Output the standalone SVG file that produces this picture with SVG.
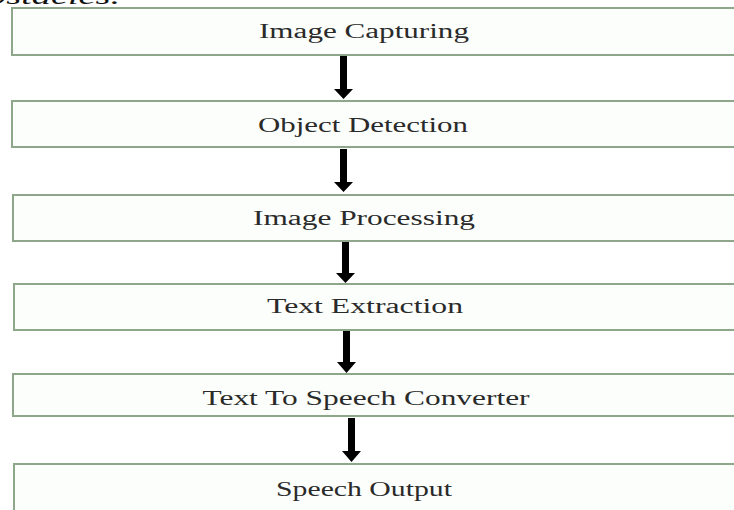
<svg xmlns="http://www.w3.org/2000/svg" width="734" height="510" viewBox="0 0 734 510">
<defs>
<style>
.box{fill:#fbfefa;stroke:#8ea68a;stroke-width:2}
.lbl{font-family:"Liberation Serif","Times New Roman",serif;font-size:20px;fill:#2a2a2a;text-anchor:middle}
.top{font-family:"Liberation Serif","Times New Roman",serif;font-size:24px;font-style:italic;fill:#111}
.shaft{fill:#000}
</style>
</defs>
<rect width="734" height="510" fill="#ffffff"/>
<text class="top" x="-32" y="4" textLength="152" lengthAdjust="spacingAndGlyphs">obstacles.</text>
<g id="n1"><rect class="box" x="12" y="8" width="740" height="47"/><text class="lbl" x="364" y="38" textLength="210" lengthAdjust="spacingAndGlyphs">Image Capturing</text></g>
<g id="n2"><rect class="box" x="12" y="101" width="740" height="46"/><text class="lbl" x="363" y="132" textLength="210" lengthAdjust="spacingAndGlyphs">Object Detection</text></g>
<g id="n3"><rect class="box" x="13" y="195" width="740" height="46"/><text class="lbl" x="364" y="225" textLength="222" lengthAdjust="spacingAndGlyphs">Image Processing</text></g>
<g id="n4"><rect class="box" x="14" y="284" width="740" height="46"/><text class="lbl" x="365" y="313" textLength="196" lengthAdjust="spacingAndGlyphs">Text Extraction</text></g>
<g id="n5"><rect class="box" x="13" y="374" width="740" height="42"/><text class="lbl" x="366" y="405" textLength="327" lengthAdjust="spacingAndGlyphs">Text To Speech Converter</text></g>
<g id="n6"><rect class="box" x="14" y="464" width="740" height="60"/><text class="lbl" x="364" y="496" textLength="176" lengthAdjust="spacingAndGlyphs">Speech Output</text></g>
<g id="connectors">
<polygon class="shaft" points="340,56 347,56 347,89 353,89 343.5,99 334,89 340,89"/>
<polygon class="shaft" points="340,149 347,149 347,182 353,182 343.5,192 334,182 340,182"/>
<polygon class="shaft" points="342,242 349,242 349,273 355,273 345.5,283 336,273 342,273"/>
<polygon class="shaft" points="343,331 350,331 350,362 356,362 346.5,373 337,362 343,362"/>
<polygon class="shaft" points="348,418 355,418 355,451 361,451 351.5,462 342,451 348,451"/>
</g>
</svg>
